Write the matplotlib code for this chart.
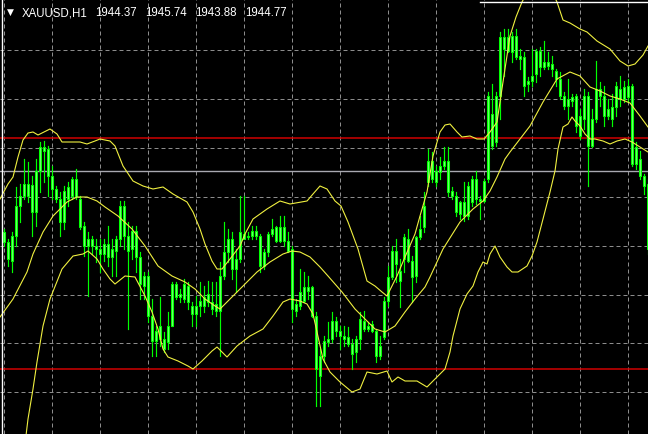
import matplotlib.pyplot as plt
from matplotlib.patches import Rectangle

# XAUUSD H1 candles, bar 1..162 from left to right (prices)
wick_hi = [1937.0, 1936.0, 1936.7, 1941.2, 1941.5, 1944.0, 1943.7, 1942.3, 1944.0, 1945.7,
           1945.8, 1945.3, 1943.3, 1941.3, 1940.7, 1941.3, 1941.7, 1942.2, 1943.0, 1940.3,
           1937.7, 1936.7, 1936.3, 1936.0, 1936.0, 1936.0, 1937.3, 1936.0, 1936.3, 1939.8,
           1939.8, 1937.7, 1937.3, 1937.3, 1934.7, 1932.7, 1932.7, 1930.0, 1927.3, 1930.2,
           1926.7, 1928.7, 1931.7, 1931.7, 1931.0, 1932.0, 1931.7, 1929.7, 1930.3, 1931.7,
           1931.3, 1931.8, 1931.7, 1931.7, 1933.7, 1937.7, 1937.0, 1936.7, 1935.0, 1940.3,
           1940.3, 1936.7, 1937.3, 1937.3, 1936.5, 1935.0, 1936.7, 1938.0, 1937.3, 1938.3,
           1938.3, 1936.7, 1935.3, 1930.0, 1933.0, 1932.7, 1932.3, 1931.3, 1928.7, 1925.0,
           1926.3, 1927.7, 1928.7, 1928.2, 1927.3, 1927.3, 1927.2, 1926.0, 1926.3, 1928.7,
           1928.8, 1927.7, 1927.8, 1927.0, 1926.3, 1930.2, 1933.3, 1935.3, 1936.0, 1934.0,
           1936.5, 1937.0, 1934.3, 1936.3, 1938.3, 1940.7, 1945.0, 1944.7, 1943.3, 1944.2,
           1945.2, 1945.2, 1941.2, 1940.7, 1939.8, 1941.7, 1941.7, 1942.3, 1942.8, 1940.3,
           1942.0, 1950.7, 1951.5, 1950.7, 1956.7, 1957.0, 1957.0, 1956.7, 1957.0, 1955.0,
           1954.7, 1952.2, 1955.0, 1955.0, 1955.2, 1955.8, 1954.7, 1954.3, 1953.0, 1952.7,
           1950.7, 1952.0, 1950.5, 1950.5, 1949.0, 1951.0, 1950.7, 1949.0, 1953.8, 1951.7,
           1951.3, 1950.0, 1950.5, 1951.7, 1952.3, 1951.8, 1952.0, 1951.5, 1945.7, 1944.8,
           1942.5, 1942.0]
body_hi = [1936.7, 1935.7, 1936.3, 1939.3, 1940.3, 1941.5, 1941.5, 1941.4, 1942.8, 1945.2,
           1945.2, 1945.0, 1942.3, 1941.0, 1940.0, 1940.8, 1941.2, 1942.0, 1942.0, 1940.0,
           1937.3, 1936.0, 1936.0, 1935.3, 1935.0, 1935.5, 1935.5, 1935.0, 1936.0, 1939.3,
           1939.3, 1936.3, 1936.8, 1936.8, 1934.2, 1932.3, 1932.3, 1928.3, 1926.8, 1927.3,
           1926.0, 1927.3, 1931.5, 1931.5, 1930.5, 1931.5, 1931.3, 1929.3, 1929.3, 1929.8,
           1930.2, 1930.5, 1929.7, 1929.5, 1932.3, 1934.7, 1936.0, 1936.0, 1934.0, 1936.7,
           1936.5, 1936.3, 1936.8, 1936.8, 1936.3, 1934.7, 1936.5, 1937.0, 1937.2, 1937.2,
           1937.2, 1935.8, 1935.0, 1929.5, 1930.7, 1931.2, 1931.2, 1931.2, 1928.3, 1924.3,
           1925.8, 1926.0, 1927.8, 1927.8, 1926.8, 1926.3, 1926.2, 1925.5, 1926.0, 1928.0,
           1927.8, 1927.3, 1927.5, 1926.8, 1925.3, 1929.8, 1932.2, 1934.8, 1934.8, 1932.8,
           1936.2, 1936.0, 1933.8, 1936.2, 1937.0, 1939.3, 1943.8, 1943.8, 1942.8, 1943.3,
           1943.8, 1943.8, 1940.8, 1940.3, 1939.7, 1939.7, 1941.3, 1942.0, 1942.0, 1940.0,
           1941.8, 1950.3, 1948.5, 1950.3, 1956.2, 1956.2, 1956.2, 1956.3, 1956.3, 1954.3,
           1954.2, 1951.8, 1952.3, 1954.8, 1954.8, 1953.7, 1953.7, 1953.5, 1952.8, 1952.0,
           1950.3, 1950.0, 1950.2, 1950.3, 1948.3, 1950.3, 1950.3, 1948.0, 1951.0, 1951.0,
           1950.3, 1949.0, 1949.2, 1951.3, 1951.0, 1951.2, 1951.3, 1951.3, 1945.2, 1944.0,
           1942.3, 1941.5]
body_lo = [1935.7, 1934.0, 1933.8, 1936.3, 1939.3, 1940.3, 1940.3, 1938.7, 1938.7, 1942.8,
           1944.8, 1942.3, 1941.0, 1940.0, 1937.7, 1937.7, 1940.0, 1940.3, 1940.2, 1937.2,
           1935.3, 1935.3, 1935.3, 1935.0, 1934.5, 1934.5, 1934.2, 1934.2, 1934.8, 1936.0,
           1936.3, 1934.8, 1935.0, 1934.2, 1931.5, 1931.3, 1928.3, 1925.8, 1925.8, 1926.0,
           1925.0, 1925.7, 1927.3, 1930.2, 1930.2, 1930.0, 1929.7, 1928.5, 1928.5, 1929.3,
           1929.3, 1929.7, 1929.0, 1928.8, 1928.8, 1932.3, 1934.7, 1933.0, 1933.0, 1934.0,
           1936.0, 1936.2, 1936.3, 1936.3, 1933.3, 1933.3, 1934.7, 1936.5, 1935.8, 1935.8,
           1935.8, 1934.8, 1929.0, 1928.8, 1929.3, 1929.8, 1930.8, 1928.3, 1923.0, 1922.3,
           1924.3, 1925.7, 1926.0, 1926.8, 1926.3, 1926.0, 1925.5, 1924.5, 1924.7, 1926.0,
           1927.0, 1927.0, 1926.8, 1924.3, 1924.3, 1926.2, 1929.8, 1932.2, 1933.5, 1931.8,
           1934.0, 1933.8, 1932.2, 1932.3, 1936.2, 1937.2, 1941.7, 1942.0, 1941.7, 1942.7,
           1943.3, 1940.7, 1940.3, 1938.7, 1938.5, 1938.3, 1938.3, 1939.7, 1940.0, 1939.8,
           1939.8, 1942.0, 1945.3, 1945.7, 1950.3, 1955.0, 1954.8, 1954.7, 1954.2, 1954.0,
           1951.3, 1951.5, 1951.8, 1952.5, 1953.2, 1953.2, 1953.3, 1953.0, 1952.0, 1950.3,
           1949.3, 1949.3, 1949.8, 1947.3, 1946.3, 1948.0, 1945.3, 1945.3, 1948.0, 1950.3,
           1948.3, 1948.3, 1948.0, 1949.2, 1950.0, 1950.0, 1950.2, 1943.5, 1943.5, 1942.3,
           1941.3, 1935.0]
wick_lo = [1935.3, 1933.3, 1932.7, 1935.3, 1937.7, 1940.0, 1939.7, 1936.3, 1937.3, 1940.7,
           1941.7, 1940.3, 1940.0, 1939.7, 1936.3, 1937.0, 1939.3, 1940.0, 1940.0, 1937.0,
           1934.3, 1930.3, 1934.5, 1933.7, 1932.7, 1933.8, 1933.3, 1932.3, 1932.3, 1935.3,
           1935.0, 1927.0, 1934.0, 1932.7, 1930.0, 1930.0, 1927.7, 1924.3, 1924.3, 1925.3,
           1924.7, 1925.0, 1927.3, 1930.0, 1929.7, 1929.7, 1929.0, 1927.3, 1927.3, 1928.3,
           1928.7, 1929.3, 1928.5, 1928.3, 1924.3, 1932.0, 1933.7, 1932.0, 1930.7, 1933.7,
           1936.0, 1936.0, 1936.0, 1936.0, 1932.7, 1933.0, 1934.3, 1936.3, 1935.7, 1935.7,
           1935.3, 1934.7, 1927.7, 1928.3, 1929.0, 1929.7, 1930.0, 1928.2, 1919.3, 1919.3,
           1923.7, 1925.3, 1925.7, 1926.3, 1925.0, 1925.3, 1925.3, 1923.0, 1923.7, 1925.0,
           1926.8, 1926.8, 1926.7, 1923.7, 1924.0, 1926.0, 1929.3, 1932.0, 1931.7, 1929.2,
           1932.7, 1933.7, 1929.7, 1931.7, 1936.0, 1936.7, 1941.3, 1941.7, 1941.3, 1942.0,
           1943.0, 1940.3, 1940.0, 1938.3, 1938.0, 1937.8, 1938.0, 1939.3, 1939.5, 1938.0,
           1939.7, 1941.7, 1945.0, 1945.3, 1948.0, 1952.3, 1954.7, 1953.7, 1954.0, 1953.0,
           1950.3, 1950.8, 1951.3, 1951.7, 1952.3, 1953.0, 1953.0, 1952.3, 1951.3, 1950.0,
           1949.0, 1948.0, 1949.3, 1946.7, 1946.0, 1947.0, 1941.3, 1945.2, 1947.7, 1949.3,
           1947.3, 1948.0, 1947.3, 1948.3, 1949.3, 1949.7, 1949.7, 1943.3, 1943.0, 1942.0,
           1940.5, 1934.5]

# Bollinger bands (bar position, price)
upper_x = [0, 2, 3.25, 4.5, 5.75, 7, 8.25, 9.5, 10.5, 12.5, 14.25, 15.5, 17.5, 20, 21.75,
           23.75, 25, 27.5, 28.75, 30.75, 33.25, 35.75, 38.25, 40.75, 43.25, 46.75, 48.25, 50,
           51.25, 53, 54.25, 55.5, 57.5, 60, 61.25, 63.25, 66.75, 70, 72.5, 76.75, 78.25, 80,
           81.75, 83.75, 85.25, 87, 89.5, 91.75, 93.75, 95.5, 96.75, 98, 99.25, 101.25, 103.75,
           105, 106.75, 108.25, 110, 111.25, 112.5, 114.25, 115.5, 117.5, 119.25, 121, 122.5,
           124.25, 125.75, 127.5, 129, 130.5, 132.5, 135, 137, 139.25, 140.75, 142.5, 145,
           146.75, 149.25, 152.5, 155, 157, 158.75, 160.75, 162]
upper_y = [1940.0, 1941.5, 1942.2, 1944.2, 1945.9, 1946.6, 1946.7, 1946.4, 1946.6, 1947.0,
           1946.5, 1945.7, 1945.7, 1945.7, 1945.5, 1945.8, 1946.0, 1945.8, 1945.3, 1943.3,
           1941.8, 1941.3, 1941.0, 1941.2, 1940.5, 1939.7, 1938.7, 1937.0, 1935.5, 1933.8,
           1933.0, 1933.0, 1934.0, 1935.3, 1936.5, 1938.0, 1939.0, 1939.8, 1939.5, 1939.8,
           1940.5, 1941.3, 1941.0, 1939.8, 1939.3, 1937.7, 1935.0, 1931.8, 1931.3, 1930.7,
           1930.3, 1931.3, 1932.3, 1934.2, 1936.5, 1938.3, 1940.7, 1944.3, 1946.7, 1947.4,
           1947.5, 1946.7, 1946.2, 1946.3, 1946.0, 1946.0, 1946.7, 1947.7, 1951.7, 1956.3,
           1958.2, 1959.7, 1961.2, 1962.2, 1961.5, 1959.7, 1957.9, 1957.6, 1957.0, 1956.7,
           1955.8, 1955.0, 1953.8, 1953.3, 1953.5, 1954.4, 1955.3]
mid_x = [0, 3.25, 6.75, 8.25, 10.75, 13.25, 15, 16.75, 19.25, 21.75, 24.25, 26.25, 29.5, 33,
         36.25, 39.5, 43, 46.25, 48.75, 51.25, 53.75, 55, 57.5, 60.75, 64.25, 67.5, 70.75, 73,
         75, 77.5, 80, 82, 85.5, 88.75, 91.25, 93.75, 96.25, 98.75, 101.25, 103.75, 106.25,
         107.5, 110.75, 115, 118.25, 120.75, 122.5, 124.25, 126.25, 127.5, 130, 132.5, 135.75,
         139.25, 142.5, 145, 147.5, 150, 152.5, 155, 157.5, 160, 162]
mid_y = [1928.2, 1930.0, 1932.7, 1934.5, 1936.7, 1938.3, 1939.0, 1939.7, 1940.2, 1940.2,
         1939.8, 1939.2, 1938.3, 1937.0, 1935.3, 1933.3, 1932.3, 1931.7, 1931.0, 1930.0,
         1929.3, 1929.0, 1930.0, 1931.3, 1932.7, 1933.7, 1934.5, 1934.8, 1934.7, 1934.2,
         1933.2, 1932.3, 1930.7, 1929.0, 1928.0, 1927.0, 1926.7, 1927.3, 1928.7, 1930.0,
         1931.2, 1932.2, 1935.0, 1937.7, 1939.0, 1939.8, 1940.8, 1942.2, 1944.0, 1944.7,
         1946.0, 1947.3, 1949.7, 1952.0, 1952.7, 1952.3, 1951.2, 1950.8, 1950.3, 1950.0,
         1949.6, 1948.3, 1947.2]
lower_x = [5.5, 7, 8.25, 9.25, 10.75, 12.5, 15.5, 18.25, 20.75, 22, 24.25, 25.75, 27.5, 28.75,
           31.25, 33.75, 36.25, 38, 39.5, 40.75, 42, 44.5, 47, 48.25, 50.5, 53, 54.25, 56.75,
           59.25, 62.5, 65.75, 68.25, 70.75, 72.5, 75, 76.75, 78.25, 80.75, 82.5, 85, 88, 90,
           91.75, 94.25, 96.75, 98, 99.5, 101.25, 104.25, 106.75, 109.25, 111.25, 112.5, 113.25,
           115, 116.75, 118.25, 119.5, 120.75, 121.75, 122.5, 123.75, 125, 126.75, 128, 129.5,
           131.75, 133, 134.25, 135.75, 137.5, 138.75, 139.5, 140.75, 142, 143, 143.75, 145,
           146.25, 147.5, 148.75, 150.75, 152.5, 154.25, 156.25, 158, 160, 162]
lower_y = [1913.0, 1918.0, 1921.0, 1923.7, 1927.3, 1930.0, 1933.0, 1934.3, 1934.5, 1934.8,
           1934.0, 1933.0, 1932.0, 1931.5, 1932.3, 1932.2, 1930.3, 1928.7, 1927.0, 1925.0,
           1924.2, 1923.8, 1923.3, 1923.0, 1923.8, 1924.8, 1925.2, 1924.2, 1925.3, 1926.3,
           1927.0, 1928.3, 1929.7, 1930.0, 1929.8, 1929.5, 1928.5, 1924.0, 1922.7, 1921.7,
           1920.7, 1921.0, 1922.7, 1922.5, 1922.8, 1921.7, 1922.2, 1921.8, 1921.8, 1921.2,
           1922.2, 1923.0, 1924.7, 1926.3, 1929.0, 1930.5, 1931.3, 1932.7, 1933.7, 1933.5,
           1934.5, 1935.3, 1934.2, 1933.2, 1932.7, 1932.7, 1933.3, 1934.3, 1935.7, 1938.0,
           1940.7, 1942.8, 1945.0, 1947.2, 1947.5, 1948.2, 1947.8, 1947.3, 1946.5, 1946.0,
           1946.0, 1945.8, 1945.5, 1945.8, 1946.0, 1945.7, 1945.2, 1944.7]

# horizontal lines drawn on the chart
red_levels = [1946.1, 1923.0]
gray_level = 1942.8

title_parts = ["XAUUSD,H1", "1944.37", "1945.74", "1943.88", "1944.77"]

fig = plt.figure(figsize=(6.48, 4.35), dpi=100, facecolor="black")
ax = fig.add_axes([0, 0, 1, 1])
ax.set_facecolor("black")
ax.set_xlim(0, 162)
ax.set_ylim(1916.5, 1960)
ax.axis("off")

# dashed grid (MT4 style)
for gx in range(1, 162, 12):
    ax.axvline(gx, color="#8c8c8c", lw=0.72, linestyle=(0, (4, 3)), zorder=1)
gy = 1960 - 0.25 - 4.885
while gy > 1916.5:
    ax.axhline(gy, color="#8c8c8c", lw=0.72, linestyle=(0, (4, 3)), zorder=1)
    gy -= 4.885

for lvl in red_levels:
    ax.axhline(lvl, color="#d00000", lw=1.1, zorder=2)
ax.axhline(gray_level, color="#a8a8b0", lw=1.0, zorder=2)

# candles
for i in range(len(wick_hi)):
    x = i + 1
    ax.plot([x, x], [wick_lo[i], wick_hi[i]], color="#00ff00", lw=0.85, zorder=3)
    h = max(body_hi[i] - body_lo[i], 0.12)
    ax.add_patch(Rectangle((x - 0.36, body_lo[i]), 0.72, h, facecolor="#70ff70",
                           edgecolor="#00ff00", lw=0.75, zorder=4))

# Bollinger bands
for bx, by in [(upper_x, upper_y), (mid_x, mid_y), (lower_x, lower_y)]:
    ax.plot(bx, by, color="#f0f040", lw=0.8, zorder=5)

# window border (left and top)
ax.axvline(0.6, color="white", lw=1.0, zorder=6)
ax.axhline(1959.75, xmin=120 / 162, xmax=1, color="white", lw=1.0, zorder=6)

fig.text(10 / 648, 1 - 12.5 / 435, "\u25bc", color="white", fontsize=6.5,
         family="DejaVu Sans", ha="center", va="center")
for txt, px in zip(title_parts, [22, 95, 145, 195, 245]):
    fig.text(px / 648, 1 - 13.5 / 435, txt, color="white", fontsize=8.3,
             family="Liberation Sans", ha="left", va="center")

fig.savefig("out.png", dpi=100, facecolor="black")
